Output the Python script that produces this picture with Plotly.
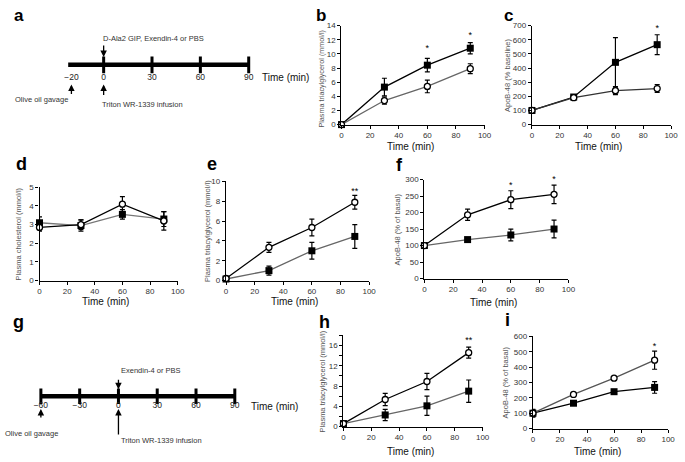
import plotly.graph_objects as go

W, H = 685, 462
FONT = "Liberation Sans, Arial, Helvetica, sans-serif"

# ---------------- data ----------------
time = [0, 30, 60, 90]

b_sq = [0, 5.3, 8.4, 10.8]
b_sq_err = [0, 1.25, 0.95, 0.8]
b_op = [0, 3.4, 5.4, 7.9]
b_op_err = [0, 0.5, 0.9, 0.7]
b_sig_x = [60, 90]
b_sig_y = [10.7, 12.5]
b_sig = ["*", "*"]

c_sq = [100, 195, 440, 565]
c_sq_err = [10, 12, 175, 70]
c_op = [100, 190, 240, 255]
c_op_err = [10, 10, 28, 27]
c_sig_x = [90]
c_sig_y = [680]
c_sig = ["*"]

d_sq = [3.1, 2.95, 3.55, 3.3]
d_sq_err = [0.32, 0.3, 0.25, 0.4]
d_op = [2.85, 3.0, 4.1, 3.2]
d_op_err = [0.2, 0.25, 0.4, 0.5]

e_sq = [0.15, 1.0, 3.0, 4.45]
e_sq_err = [0.1, 0.45, 0.85, 1.2]
e_op = [0.2, 3.35, 5.35, 7.9]
e_op_err = [0.1, 0.5, 0.85, 0.7]
e_sig_x = [90]
e_sig_y = [9.0]
e_sig = ["**"]

f_sq = [100, 118, 132, 150]
f_sq_err = [3, 5, 18, 27]
f_op = [100, 193, 239, 255]
f_op_err = [3, 17, 27, 28]
f_sig_x = [60, 90]
f_sig_y = [282, 299]
f_sig = ["*", "*"]

h_sq = [0.6, 2.3, 4.1, 7.0]
h_sq_err = [0.4, 1.1, 1.9, 2.2]
h_op = [0.6, 5.35, 8.9, 14.6]
h_op_err = [0.3, 1.2, 1.6, 1.1]
h_sig_x = [90]
h_sig_y = [17.0]
h_sig = ["**"]

i_sq = [100, 165, 240, 268]
i_sq_err = [25, 10, 12, 38]
i_op = [100, 222, 328, 445]
i_op_err = [20, 8, 10, 59]
i_sig_x = [90]
i_sig_y = [534]
i_sig = ["*"]

# timelines
tl_a_line = [-22, 90]
tl_a_ticks = [0, 30, 60, 90]
tl_a_label_x = [-20, 0, 30, 60, 90]
tl_a_labels = ["\u221220", "0", "30", "60", "90"]

tl_g_line = [-60, 90]
tl_g_ticks = [-60, -30, 0, 30, 60, 90]
tl_g_labels = ["\u221260", "\u221230", "0", "30", "60", "90"]

x_ticks = [0, 20, 40, 60, 80, 100]

fig = go.Figure()
layout = dict(width=W, height=H, margin=dict(l=0, r=0, t=0, b=0),
              paper_bgcolor="white", plot_bgcolor="white", showlegend=False,
              font=dict(family=FONT, color="#222"))
annotations = []


def dx(a, b):
    return [a / W, b / W]


def dy(top, bottom):
    return [1 - bottom / H, 1 - top / H]


def add_panel(n, xpx, ypx, yrange, yticks, yticktext, ytitle, ytitle_shift, time_shift,
              sq, sq_err, op, op_err, sq_col, op_col, sig_x=None, sig_y=None, sig=None,
              ytitle_yshift=0, ytitle_size=7.5):
    xa = "x" if n == 1 else f"x{n}"
    ya = "y" if n == 1 else f"y{n}"
    layout[f"xaxis{n}"] = dict(domain=dx(*xpx), anchor=ya, range=[0, 100], tickvals=x_ticks,
                               showline=True, linecolor="black", linewidth=1.3,
                               ticks="outside", ticklen=3, tickcolor="black", tickwidth=1,
                               tickfont=dict(size=8, color="#333"), showgrid=False, zeroline=False)
    layout[f"yaxis{n}"] = dict(domain=dy(*ypx), anchor=xa, range=yrange, tickvals=yticks,
                               ticktext=yticktext,
                               showline=True, linecolor="black", linewidth=1.3,
                               ticks="outside", ticklen=3, tickcolor="black", tickwidth=1,
                               tickfont=dict(size=8, color="#333"), showgrid=False, zeroline=False)
    fig.add_trace(go.Scatter(x=time, y=sq, xaxis=xa, yaxis=ya, mode="lines+markers",
                             line=dict(color=sq_col, width=1.3), cliponaxis=False,
                             marker=dict(symbol="square", size=7, color="black"),
                             error_y=dict(type="data", array=sq_err, color="black",
                                          thickness=1.2, width=2.5)))
    fig.add_trace(go.Scatter(x=time, y=op, xaxis=xa, yaxis=ya, mode="lines+markers",
                             line=dict(color=op_col, width=1.3), cliponaxis=False,
                             marker=dict(symbol="circle", size=6, color="white",
                                         line=dict(color="black", width=1.3)),
                             error_y=dict(type="data", array=op_err, color="black",
                                          thickness=1.2, width=2.5)))
    if sig_x:
        fig.add_trace(go.Scatter(x=sig_x, y=sig_y, text=sig, mode="text", xaxis=xa, yaxis=ya,
                                 cliponaxis=False, textposition="middle center",
                                 textfont=dict(size=9, color="black")))
    annotations.append(dict(text=ytitle, xref=f"{xa} domain", yref=f"{ya} domain", x=0, y=0.5,
                            xshift=ytitle_shift, yshift=ytitle_yshift, textangle=-90,
                            showarrow=False, xanchor="center", yanchor="middle",
                            font=dict(size=ytitle_size, color="#555")))
    annotations.append(dict(text="Time (min)", xref=f"{xa} domain", yref=f"{ya} domain", x=0.5, y=0,
                            xshift=-3, yshift=time_shift, showarrow=False,
                            xanchor="center", yanchor="middle",
                            font=dict(size=10, color="#111")))


def lbl(step_vals, every):
    return [str(v) if v % every == 0 else "" for v in step_vals]


tg14 = list(range(0, 15, 2))
add_panel(2, (344, 489), (22, 123), [0, 14], tg14, [str(v) for v in tg14],
          "Plasma triacylglycerol (mmol/l)", -20, -22,
          b_sq, b_sq_err, b_op, b_op_err, "black", "#666", b_sig_x, b_sig_y, b_sig,
          ytitle_yshift=-4, ytitle_size=7.2)
ap7 = list(range(0, 701, 100))
add_panel(3, (537, 678), (22, 123), [0, 700], ap7, [str(v) for v in ap7],
          "ApoB-48 (% baseline)", -25, -22,
          c_sq, c_sq_err, c_op, c_op_err, "black", "#333", c_sig_x, c_sig_y, c_sig)
ch5 = list(range(0, 6))
add_panel(4, (38, 178), (187, 282), [0, 5], ch5, [str(v) for v in ch5],
          "Plasma cholesterol (mmol/l)", -21, -21,
          d_sq, d_sq_err, d_op, d_op_err, "#777", "black")
tg10 = list(range(0, 11, 2))
add_panel(5, (227, 372), (181, 282), [0, 10], tg10, [str(v) for v in tg10],
          "Plasma triacylglycerol (mmol/l)", -18, -21,
          e_sq, e_sq_err, e_op, e_op_err, "#666", "black", e_sig_x, e_sig_y, e_sig)
ap3 = list(range(0, 301, 50))
add_panel(6, (428, 574), (179, 280), [0, 300], ap3, [str(v) for v in ap3],
          "ApoB-48 (% of basal)", -27, -24,
          f_sq, f_sq_err, f_op, f_op_err, "#666", "black", f_sig_x, f_sig_y, f_sig)
tg18 = list(range(0, 19, 2))
add_panel(8, (346, 487), (338, 431), [0, 18], tg18, lbl(tg18, 4),
          "Plasma triacylglycerol (mmol/l)", -21, -25,
          h_sq, h_sq_err, h_op, h_op_err, "#666", "black", h_sig_x, h_sig_y, h_sig)
ap6 = list(range(0, 601, 100))
add_panel(9, (538, 675), (339, 433), [0, 600], ap6, [str(v) for v in ap6],
          "ApoB-48 (% of basal)", -27, -23,
          i_sq, i_sq_err, i_op, i_op_err, "black", "#555", i_sig_x, i_sig_y, i_sig)

# ---------------- timelines ----------------
hidden = dict(visible=False, showgrid=False, zeroline=False)
# panel a: px = 103 + 1.6333*min ; line at y 62
layout["xaxis"] = dict(domain=[0, 0.5], range=[-103 / 1.6333, (342.5 - 103) / 1.6333],
                       anchor="y", **hidden)
layout["yaxis"] = dict(domain=[1 - 140 / H, 1], range=[62 - 140, 62], anchor="x", **hidden)
# panel g: px = 118 + 1.31*min ; line at y 400
layout["xaxis7"] = dict(domain=[0, 0.5], range=[-118 / 1.31, (342.5 - 118) / 1.31],
                        anchor="y7", **hidden)
layout["yaxis7"] = dict(domain=[0, 1 - 330 / H], range=[400 - H, 400 - 330],
                        anchor="x7", **hidden)


def add_timeline(xa, ya, line_x, ticks, label_x, labels, label_y, tick_size):
    fig.add_trace(go.Scatter(x=line_x, y=[0] * len(line_x), xaxis=xa, yaxis=ya, mode="lines",
                             line=dict(color="black", width=4.5)))
    fig.add_trace(go.Scatter(x=ticks, y=[0] * len(ticks), xaxis=xa, yaxis=ya, mode="markers",
                             marker=dict(symbol="line-ns", size=tick_size,
                                         line=dict(color="black", width=3))))
    fig.add_trace(go.Scatter(x=label_x, y=[label_y] * len(label_x), text=labels, xaxis=xa,
                             yaxis=ya, mode="text", textposition="middle center",
                             textfont=dict(size=8.5, color="#222")))


add_timeline("x", "y", tl_a_line, tl_a_ticks, tl_a_label_x, tl_a_labels, -13, 12)
add_timeline("x7", "y7", tl_g_line, tl_g_ticks, tl_g_ticks, tl_g_labels, -10, 11)


def arrow(xr, yr, x, y, ay):
    annotations.append(dict(xref=xr, yref=yr, x=x, y=y, ax=0, ay=ay, text="", showarrow=True,
                            arrowhead=2, arrowsize=1, arrowwidth=1.3, arrowcolor="black"))


def txt(xr, yr, x, y, s, size=7.5, anchor="left", color="#333"):
    annotations.append(dict(xref=xr, yref=yr, x=x, y=y, text=s, showarrow=False,
                            xanchor=anchor, yanchor="middle", font=dict(size=size, color=color)))


# panel a
arrow("x", "y", 0, 8, -13)
arrow("x", "y", 0, -20, 12)
arrow("x", "y", -20, -20, 11)
txt("x", "y", -1.5, 27, "D-Ala2 GIP, Exendin-4 or PBS")
txt("x", "y", -2.0, -41, "Triton WR-1339 infusion")
txt("x", "y", -56, -35, "Olive oil gavage")
txt("x", "y", 97, -13, "Time (min)", size=10, color="#111")

# panel g
arrow("x7", "y7", 0, 7, -11)
arrow("x7", "y7", 0, -13, 27)
arrow("x7", "y7", -60, -13, 10)
txt("x7", "y7", 0.5, 26, "Exendin-4 or PBS")
txt("x7", "y7", 0.5, -45, "Triton WR-1339 infusion")
txt("x7", "y7", -89.3, -38, "Olive oil gavage")
txt("x7", "y7", 101, -10, "Time (min)", size=10, color="#111")

# panel letters
top_letters = [("a", 17), ("b", 323), ("c", 513)]
for s, lx in top_letters:
    annotations.append(dict(xref="paper", yref="paper", x=lx / W, y=1, text=f"<b>{s}</b>",
                            showarrow=False, xanchor="center", yanchor="top",
                            font=dict(size=17, color="black", family=FONT)))
letters = [("d", 20, 163), ("e", 213, 163), ("f", 403, 164),
           ("g", 17, 324), ("h", 327, 324), ("i", 512, 322)]
for s, lx, ly in letters:
    annotations.append(dict(xref="paper", yref="paper", x=lx / W, y=1 - ly / H,
                            text=f"<b>{s}</b>", showarrow=False, xanchor="center",
                            yanchor="middle", font=dict(size=18, color="black", family=FONT)))

layout["annotations"] = annotations
fig.update_layout(**layout)
fig.write_html("out.html", config={"displayModeBar": False},
               post_script="document.body.style.margin='0px';")
